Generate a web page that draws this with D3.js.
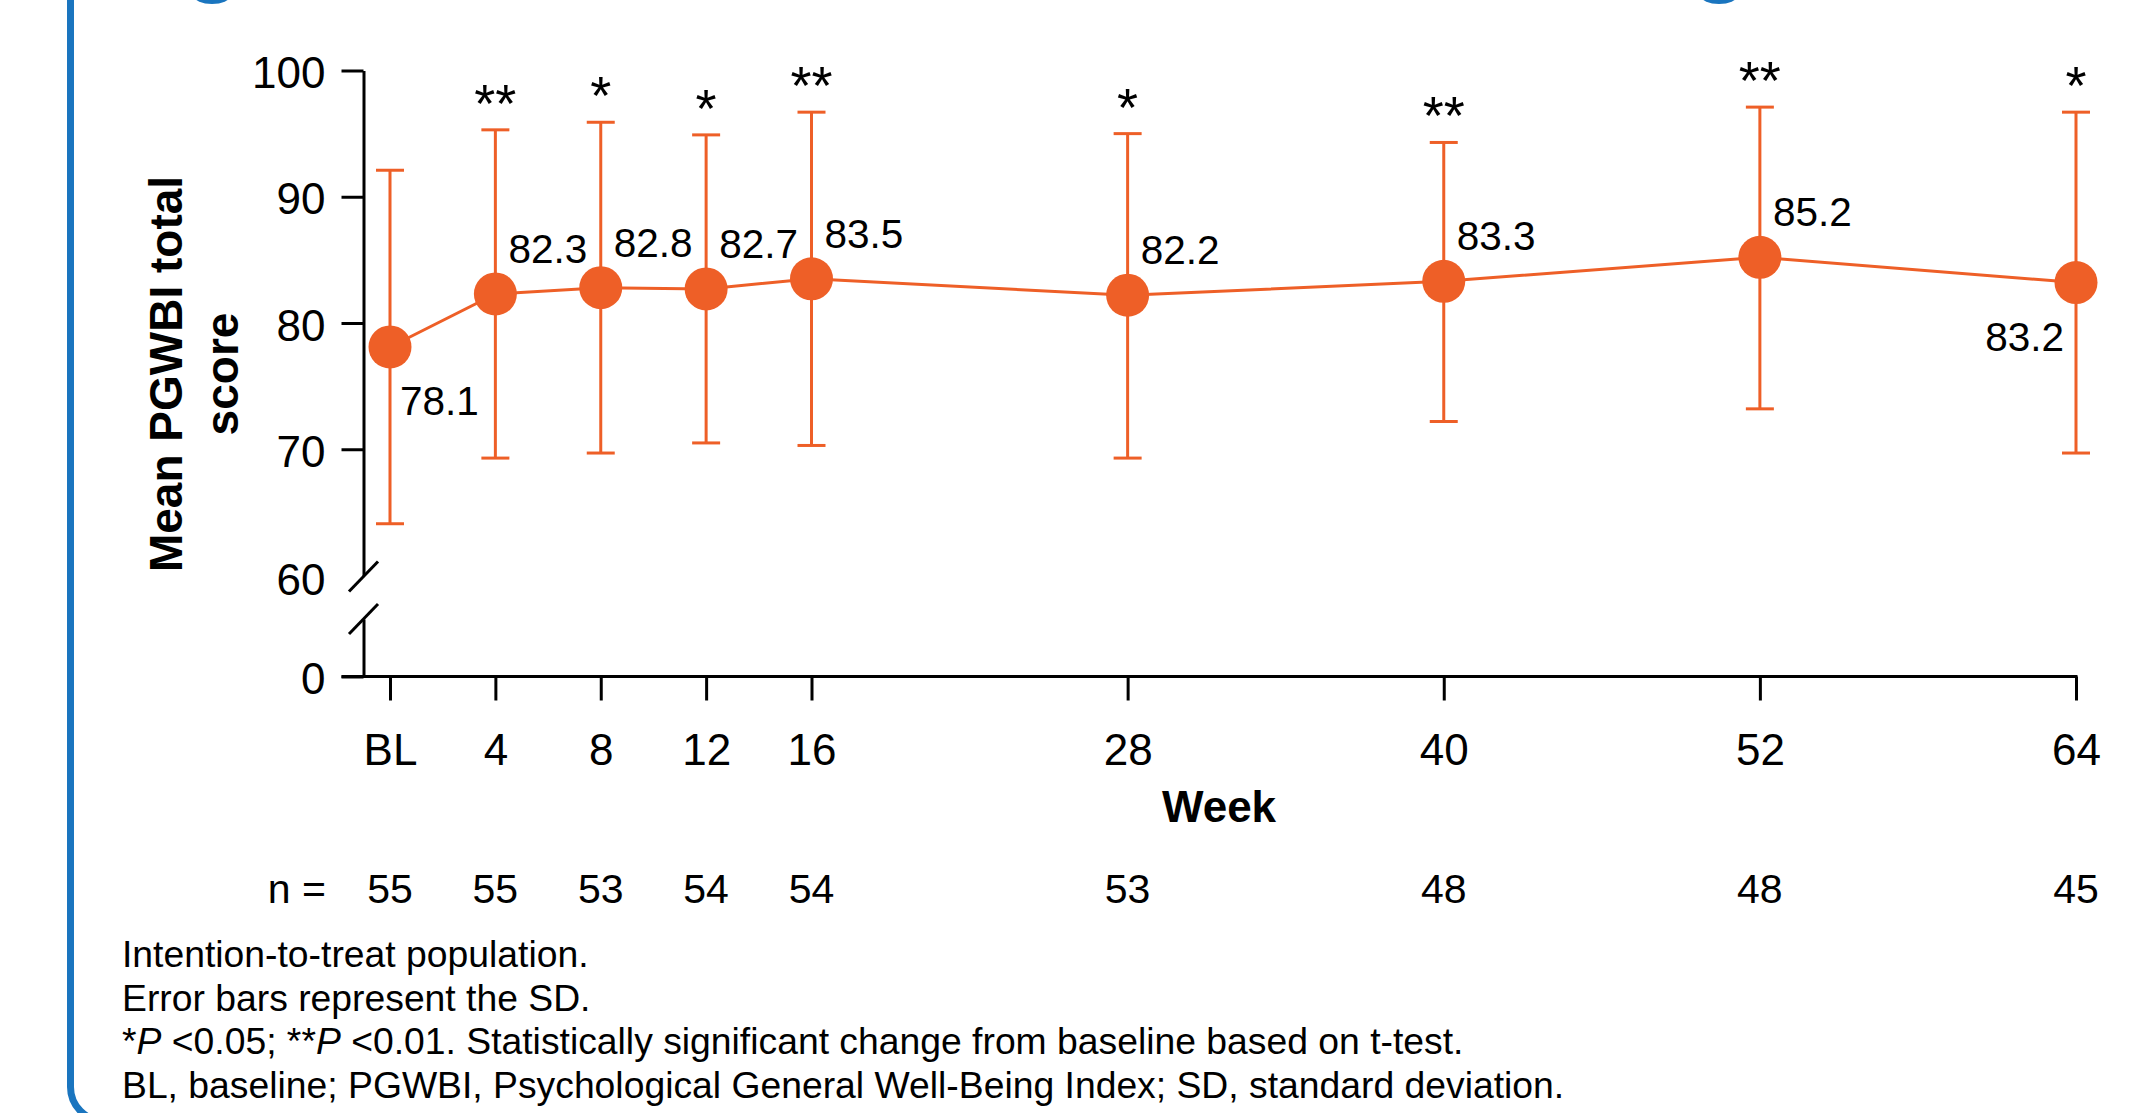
<!DOCTYPE html>
<html>
<head>
<meta charset="utf-8">
<script src="https://cdn.jsdelivr.net/npm/d3@7"></script>
<style>
  html, body { margin: 0; padding: 0; background: #ffffff; }
  svg { display: block; }
  text { font-family: "Liberation Sans", Arial, Helvetica, sans-serif; fill: #000; }
</style>
</head>
<body>
<svg id="chart" width="2132" height="1113"></svg>
<script>
// ---------------- data ----------------
const weeks        = [0, 4, 8, 12, 16, 28, 40, 52, 64];
const weekLabels   = ["BL", "4", "8", "12", "16", "28", "40", "52", "64"];
const meanScores   = [78.1, 82.3, 82.8, 82.7, 83.5, 82.2, 83.3, 85.2, 83.2];
const sdLower      = [64.1, 69.3, 69.7, 70.5, 70.3, 69.3, 72.2, 73.2, 69.7];
const sdUpper      = [92.1, 95.3, 95.9, 94.9, 96.7, 95.0, 94.3, 97.1, 96.7];
const significance = ["", "**", "*", "*", "**", "*", "**", "**", "*"];
const nValues      = [55, 55, 53, 54, 54, 53, 48, 48, 45];
const yTickValues  = [60, 70, 80, 90, 100];
const yLowTicks    = [0];
const footnotes = [
  [{t: "Intention-to-treat population."}],
  [{t: "Error bars represent the SD."}],
  [{t: "*"}, {t: "P", i: true}, {t: " <0.05; **"}, {t: "P", i: true}, {t: " <0.01. Statistically significant change from baseline based on t-test."}],
  [{t: "BL, baseline; PGWBI, Psychological General Well-Being Index; SD, standard deviation."}]
];

const rows = weeks.map((w, i) => ({
  week: w, label: weekLabels[i], mean: meanScores[i],
  lo: sdLower[i], hi: sdUpper[i], sig: significance[i], n: nValues[i], idx: i
}));

// ---------------- setup ----------------
const ORANGE = "#EE5F27";
const BLUE = "#1A75BF";
const FONT = '"Liberation Sans", Arial, sans-serif';
const svg = d3.select("#chart");

svg.append("rect").attr("width", 2132).attr("height", 1113).attr("fill", "#fff");

// blue panel frame (partially visible)
svg.append("rect")
  .attr("x", 70.5).attr("y", -60)
  .attr("width", 2200).attr("height", 1181)
  .attr("rx", 34).attr("ry", 34)
  .attr("fill", "none").attr("stroke", BLUE).attr("stroke-width", 7);

// fragments of the blue heading cut off at top
[212, 1719].forEach(cx => {
  svg.append("ellipse").attr("cx", cx).attr("cy", -4).attr("rx", 18).attr("ry", 8).attr("fill", BLUE);
});

const axisX = 363.5;
const x = d3.scaleLinear().domain([0, 64]).range([390, 2076]);
const y = d3.scaleLinear().domain([60, 100]).range([575.5, 70.5]);
const yLow = d3.scaleLinear().domain([0, 4.5]).range([676.5, 619]);

// ---------------- y axis (upper segment) ----------------
const gy = svg.append("g").attr("transform", `translate(${axisX},0)`)
  .call(d3.axisLeft(y).tickValues(yTickValues).tickSize(22).tickSizeOuter(0).tickPadding(16).tickFormat(d3.format("d")));
gy.select(".domain").attr("stroke", "#000").attr("stroke-width", 3);
gy.selectAll(".tick line").attr("stroke", "#000").attr("stroke-width", 3)
  .attr("display", d => d === 60 ? "none" : null);
gy.selectAll(".tick text").attr("font-size", 44).style("font-family", FONT).attr("fill", "#000")
  .attr("transform", d => `translate(0,${d === 60 ? 5 : 3})`);

// ---------------- y axis (lower segment, 0) ----------------
const gyl = svg.append("g").attr("transform", `translate(${axisX},0)`)
  .call(d3.axisLeft(yLow).tickValues(yLowTicks).tickSize(22).tickSizeOuter(0).tickPadding(16).tickFormat(d3.format("d")));
gyl.select(".domain").attr("stroke", "#000").attr("stroke-width", 3);
gyl.selectAll(".tick line").attr("stroke", "#000").attr("stroke-width", 3);
gyl.selectAll(".tick text").attr("font-size", 44).style("font-family", FONT).attr("fill", "#000")
  .attr("transform", "translate(0,3)");

// break marks
const breakG = svg.append("g").attr("stroke", "#000").attr("stroke-width", 3);
[y(60) + 1, yLow(4.5)].forEach(cy => {
  breakG.append("line")
    .attr("x1", axisX - 14.5).attr("y1", cy + 15)
    .attr("x2", axisX + 14.5).attr("y2", cy - 15);
});

// ---------------- x axis ----------------
const x0 = yLow(0);
const gx = svg.append("g").attr("transform", `translate(0,${x0})`)
  .call(d3.axisBottom(x).tickValues(weeks).tickSize(24).tickSizeOuter(0).tickPadding(33)
    .tickFormat((d, i) => weekLabels[i]));
gx.select(".domain").remove();
gx.selectAll(".tick line").attr("stroke", "#000").attr("stroke-width", 3);
gx.selectAll(".tick text").attr("font-size", 44).style("font-family", FONT).attr("fill", "#000");
svg.append("line")
  .attr("x1", axisX - 22).attr("x2", x(64) + 1.5)
  .attr("y1", x0).attr("y2", x0)
  .attr("stroke", "#000").attr("stroke-width", 3);

// axis titles
svg.append("text")
  .attr("x", (x(0) + x(64)) / 2 - 14).attr("y", 822)
  .attr("text-anchor", "middle").attr("font-size", 44).attr("font-weight", "bold")
  .text("Week");

const yTitle = svg.append("text")
  .attr("transform", "translate(182,374) rotate(-90)")
  .attr("text-anchor", "middle").attr("font-size", 46).attr("font-weight", "bold");
yTitle.append("tspan").attr("x", 0).attr("y", 0).text("Mean PGWBI total");
yTitle.append("tspan").attr("x", 0).attr("y", 56).text("score");

// ---------------- error bars ----------------
const eb = svg.append("g").attr("stroke", ORANGE).attr("stroke-width", 3).attr("fill", "none");
rows.forEach(d => {
  eb.append("line").attr("x1", x(d.week)).attr("x2", x(d.week)).attr("y1", y(d.lo)).attr("y2", y(d.hi));
  eb.append("line").attr("x1", x(d.week) - 14).attr("x2", x(d.week) + 14).attr("y1", y(d.hi)).attr("y2", y(d.hi));
  eb.append("line").attr("x1", x(d.week) - 14).attr("x2", x(d.week) + 14).attr("y1", y(d.lo)).attr("y2", y(d.lo));
});

// ---------------- line + points ----------------
svg.append("path").datum(rows)
  .attr("fill", "none").attr("stroke", ORANGE).attr("stroke-width", 3)
  .attr("d", d3.line().x(d => x(d.week)).y(d => y(d.mean)));

svg.append("g").selectAll("circle").data(rows).join("circle")
  .attr("cx", d => x(d.week)).attr("cy", d => y(d.mean)).attr("r", 21.5)
  .attr("fill", ORANGE);

// value labels
svg.append("g").selectAll("text").data(rows).join("text")
  .attr("font-size", 40.5)
  .attr("x", d => d.idx === 0 ? x(d.week) + 10 : d.idx === rows.length - 1 ? x(d.week) - 12 : x(d.week) + 13)
  .attr("y", d => (d.idx === 0 || d.idx === rows.length - 1) ? y(d.mean) + 68 : y(d.mean) - 31)
  .attr("text-anchor", d => d.idx === rows.length - 1 ? "end" : "start")
  .text(d => d3.format(".1f")(d.mean));

// significance markers
svg.append("g").selectAll("text").data(rows.filter(d => d.sig)).join("text")
  .attr("font-size", 54)
  .attr("text-anchor", "middle")
  .attr("x", d => x(d.week))
  .attr("y", d => y(d.hi) - 8)
  .text(d => d.sig);

// ---------------- n row ----------------
const nRowY = 903;
svg.append("text").attr("x", 326).attr("y", nRowY).attr("text-anchor", "end")
  .attr("font-size", 41).text("n =");
svg.append("g").selectAll("text").data(rows).join("text")
  .attr("x", d => x(d.week)).attr("y", nRowY).attr("text-anchor", "middle")
  .attr("font-size", 41).text(d => d.n);

// ---------------- footnotes ----------------
footnotes.forEach((parts, i) => {
  const t = svg.append("text").attr("x", 122).attr("y", 967 + i * 43.5).attr("font-size", 37.3).attr("fill", "#222");
  parts.forEach(p => {
    const s = t.append("tspan").text(p.t);
    if (p.i) s.attr("font-style", "italic");
  });
});
</script>
</body>
</html>
